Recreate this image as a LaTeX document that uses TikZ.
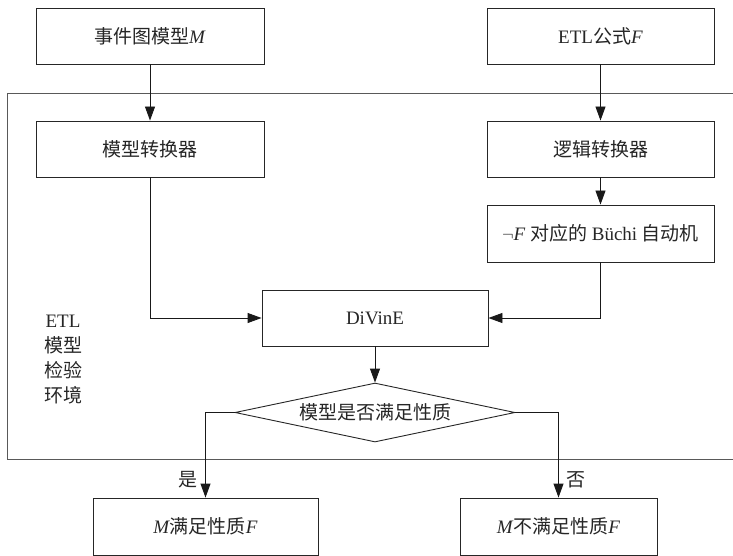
\documentclass[tikz,border=0pt]{standalone}
\usepackage{fontspec}
\setmainfont{Liberation Serif}
\newfontfamily\cjk{Noto Sans CJK SC}
\usetikzlibrary{arrows.meta,shapes.geometric}
\newcommand{\zhtxt}[1]{{\cjk #1}}
\begin{document}
\begin{tikzpicture}[x=1pt,y=-1pt,
  every node/.style={text=black!85,font=\fontsize{19}{25}\selectfont,inner sep=0pt},
  stepbox/.style={draw=black!85,line width=0.9pt,minimum height=56pt,align=center},
  decide/.style={draw=black!85,line width=0.9pt,shape=diamond,aspect=4.75,minimum width=280pt,minimum height=59pt},
  arr/.style={draw=black!90,line width=0.9pt,-{Triangle[length=14pt,width=10pt]}},
  envbox/.style={draw=black!65,line width=1.2pt}
]
\clip (0,0) rectangle (733,556);
\fill[white] (0,0) rectangle (733,556);
% environment frame
\node[envbox,minimum width=745pt,minimum height=366pt,anchor=north west] (env) at (7,93) {};
\node[align=center] (envlabel) at (63,360) {ETL\\\zhtxt{模型}\\\zhtxt{检验}\\\zhtxt{环境}};
% boxes
\node[stepbox,minimum width=228pt] (model) at (150,36) {\zhtxt{事件图模型}\textit{M}};
\node[stepbox,minimum width=227pt] (formula) at (600.5,36) {ETL\zhtxt{公式}\textit{F}};
\node[stepbox,minimum width=228pt] (mconv) at (150,149) {\zhtxt{模型转换器}};
\node[stepbox,minimum width=227pt] (lconv) at (600.5,149) {\zhtxt{逻辑转换器}};
\node[stepbox,minimum width=227pt,minimum height=57pt] (buchi) at (600.5,233.5) {$\neg$\textit{F} \zhtxt{对应的} Büchi \zhtxt{自动机}};
\node[stepbox,minimum width=226pt] (divine) at (375,318) {DiVinE};
\node[decide] (check) at (375,412.5) {\zhtxt{模型是否满足性质}};
\node[stepbox,minimum width=225pt,minimum height=57pt] (yes) at (205.5,526.5) {\textit{M}\zhtxt{满足性质}\textit{F}};
\node[stepbox,minimum width=197pt,minimum height=57pt] (no) at (558.5,526.5) {\textit{M}\zhtxt{不满足性质}\textit{F}};
% connectors
\draw[arr] (model) -- (mconv);
\draw[arr] (formula) -- (lconv);
\draw[arr] (lconv) -- (buchi);
\draw[arr] (mconv.south) |- (divine.west);
\draw[arr] (buchi.south) |- (divine.east);
\draw[arr] (divine) -- (check);
\draw[arr] (check.west) -| (yes.north);
\draw[arr] (check.east) -| (no.north);
% labels
\node (yeslbl) at (188,480) {\zhtxt{是}};
\node (nolbl) at (576,480) {\zhtxt{否}};
\end{tikzpicture}
\end{document}
